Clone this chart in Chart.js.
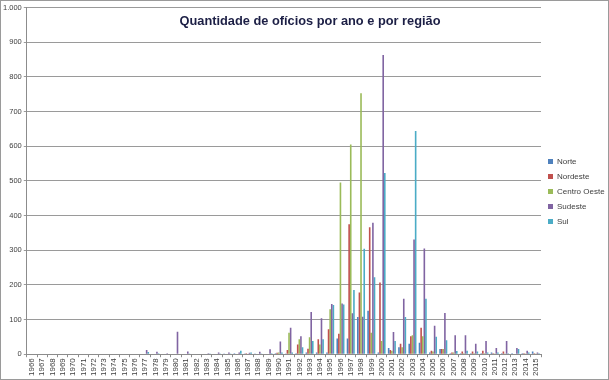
<!DOCTYPE html>
<html>
<head>
<meta charset="utf-8">
<script src="https://cdn.jsdelivr.net/npm/chart.js@4"></script>
<style>
  html, body { margin: 0; padding: 0; background: #fff; }
  #wrap { position: relative; width: 609px; height: 380px; box-sizing: border-box; border: 1px solid #9a9a9a; }
  #title { position: absolute; left: 109px; width: 400px; top: 12px; text-align: center; white-space: nowrap;
           font-family: "Liberation Sans", Arial, sans-serif; font-weight: bold; font-size: 12.8px; color: #1c1f45; }
</style>
</head>
<body>
<div id="wrap">
  <canvas id="ofChart" width="607" height="378"></canvas>
  <div id="title">Quantidade de ofícios por ano e por região</div>
</div>
<script>
const years = [];
for (let y = 1966; y <= 2015; y++) years.push(String(y));

const norte = [0,0,0,0,0,0,0,0,0,0,0, 0,0,0,0,0,0,0,0,2,3,2,2,0,3,2,3,5,5,5,45,45,107,125,5,18,20,30,33,5,15,3,3,3,3,5,3,3,3,8];
const nordeste = [0,0,0,0,0,0,0,0,0,0,0, 0,0,0,0,0,0,0,0,0,0,3,0,0,4,12,28,16,43,72,59,375,178,366,207,12,30,52,76,10,15,5,8,8,10,3,8,0,3,3];
const centroOeste = [0,0,0,0,0,0,0,0,0,0,0, 0,0,0,0,0,0,0,0,0,0,0,0,0,5,62,43,49,28,130,495,605,753,62,38,10,20,55,52,8,15,5,3,3,3,2,2,0,2,2];
const sudeste = [0,0,0,0,0,0,0,0,0,0,0, 12,7,3,65,8,1,3,5,5,5,4,7,14,37,76,52,122,104,145,146,118,108,379,863,64,160,331,305,82,119,55,55,30,38,18,38,18,10,5];
const sul = [0,0,0,0,0,0,0,0,0,0,0, 6,3,0,0,2,0,2,2,2,10,5,2,3,5,5,20,38,43,142,143,185,304,222,523,38,107,644,160,50,40,9,10,8,5,5,3,15,5,3];

const seriesNames = ['Norte', 'Nordeste', 'Centro Oeste', 'Sudeste', 'Sul'];
const seriesColors = ['#4F81BD', '#C0504D', '#9BBB59', '#8064A2', '#4BACC6'];
const seriesData = [norte, nordeste, centroOeste, sudeste, sul];

const yMax = 1000;
const yStep = 100;

const ctx = document.getElementById('ofChart').getContext('2d');
const ofChart = new Chart(ctx, {
    type: 'bar',
    data: {
        labels: years,
        datasets: seriesNames.map((name, i) => ({
            label: name,
            data: seriesData[i],
            backgroundColor: seriesColors[i],
            borderWidth: 0,
            categoryPercentage: 0.78,
            barPercentage: 1.0
        }))
    },
    options: {
        responsive: false,
        animation: false,
        layout: { padding: { top: 5, right: 0, left: 0, bottom: 2 } },
        plugins: {
            title: { display: false },
            tooltip: { enabled: false },
            legend: {
                position: 'right',
                maxWidth: 67,
                labels: {
                    boxWidth: 5,
                    boxHeight: 5,
                    padding: 7,
                    color: '#404040',
                    font: { family: 'Liberation Sans', size: 8 }
                }
            }
        },
        scales: {
            x: {
                offset: true,
                grid: { display: true, drawOnChartArea: false, offset: true, tickLength: 3, color: '#8c8c8c' },
                border: { color: '#8c8c8c' },
                ticks: {
                    autoSkip: false,
                    maxRotation: 90,
                    minRotation: 90,
                    padding: 1,
                    color: '#404040',
                    font: { family: 'Liberation Sans', size: 8 }
                }
            },
            y: {
                min: 0,
                max: yMax,
                ticks: {
                    stepSize: yStep,
                    padding: 2,
                    color: '#404040',
                    font: { family: 'Liberation Sans', size: 7.5 },
                    callback: v => v.toLocaleString('pt-BR')
                },
                grid: { color: '#9a9a9a', tickLength: 3 },
                border: { color: '#8c8c8c' }
            }
        }
    }
});
</script>
</body>
</html>
